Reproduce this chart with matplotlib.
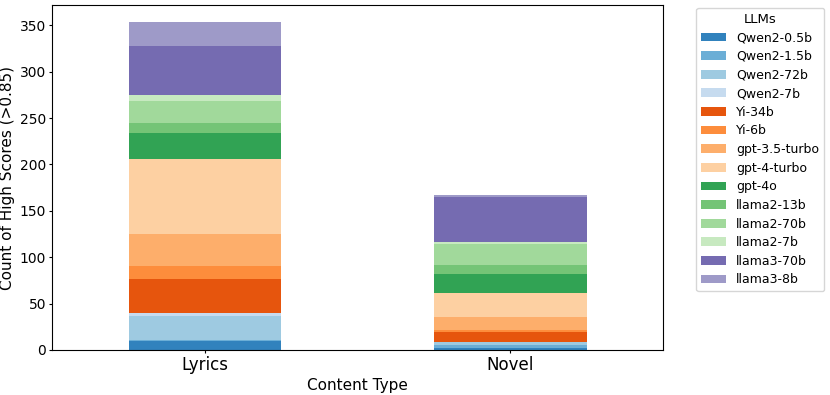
import matplotlib
matplotlib.use("Agg")
import matplotlib.pyplot as plt
import numpy as np

tipos = ["Lyrics", "Novel"]
modelos = ["Qwen2-0.5b", "Qwen2-1.5b", "Qwen2-72b", "Qwen2-7b", "Yi-34b", "Yi-6b",
           "gpt-3.5-turbo", "gpt-4-turbo", "gpt-4o", "llama2-13b", "llama2-70b",
           "llama2-7b", "llama3-70b", "llama3-8b"]
lyrics = [10, 1, 26, 3, 36, 14, 35, 81, 28, 11, 23, 7, 53, 26]
novel = [2, 3, 4, 0, 10, 2, 15, 25, 21, 10, 22, 2, 49, 2]

cores = plt.cm.tab20c.colors[:len(modelos)]

fig = plt.figure(figsize=(8.3, 3.95), dpi=100)
ax = fig.add_axes([0.063, 0.114, 0.736, 0.873])

x = np.arange(len(tipos))
base = np.zeros(len(tipos))
for nome, a, b, c in zip(modelos, lyrics, novel, cores):
    vals = np.array([a, b], dtype=float)
    ax.bar(x, vals, 0.5, bottom=base, color=c, label=nome)
    base += vals

ax.set_xlim(-0.5, 1.5)
ax.set_xticks(x)
ax.set_xticklabels(tipos, fontsize=12)
ax.tick_params(axis="y", labelsize=10)
ax.tick_params(length=2.5, pad=2)
ax.set_xlabel("Content Type", fontsize=11, labelpad=3)
ax.set_ylabel("Count of High Scores (>0.85)", fontsize=11, labelpad=3)
ax.legend(title="LLMs", bbox_to_anchor=(1.05, 1), loc="upper left", fontsize=9,
          title_fontsize=9.5, labelspacing=0.45, borderaxespad=0.2)

plt.savefig("out.png")
